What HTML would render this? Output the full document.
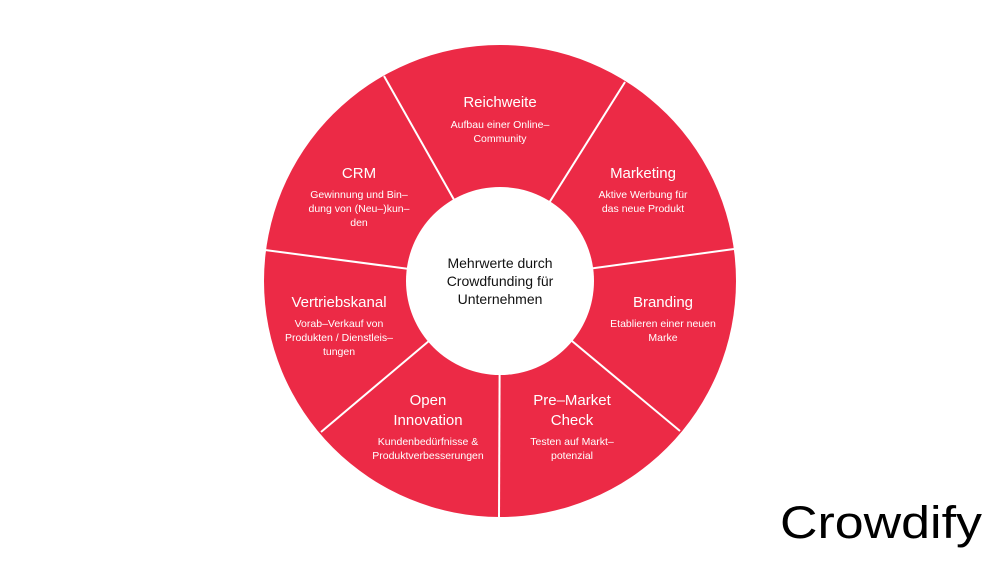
<!DOCTYPE html>
<html><head><meta charset="utf-8"><style>
body{margin:0;background:#fff;width:1000px;height:563px;overflow:hidden}
svg text{font-family:"Liberation Sans",sans-serif}
</style></head><body>
<svg width="1000" height="563" viewBox="0 0 1000 563">
<circle cx="500" cy="281" r="236" fill="#EC2A46"/>
<g stroke="#fff" stroke-width="2">
<line x1="500" y1="281" x2="384" y2="76"/>
<line x1="500" y1="281" x2="625" y2="82"/>
<line x1="500" y1="281" x2="734" y2="249"/>
<line x1="500" y1="281" x2="680" y2="431"/>
<line x1="500" y1="281" x2="499" y2="518"/>
<line x1="500" y1="281" x2="321" y2="432"/>
<line x1="500" y1="281" x2="265" y2="250"/>
</g>
<circle cx="500" cy="281" r="94" fill="#fff"/>
<g fill="#fff" text-anchor="middle">
<g font-size="15"><text x="500" y="107">Reichweite</text><text x="643" y="178">Marketing</text><text x="359" y="178">CRM</text><text x="339" y="307">Vertriebskanal</text><text x="663" y="307">Branding</text><text x="428" y="405">Open</text><text x="428" y="425">Innovation</text><text x="572" y="405">Pre–Market</text><text x="572" y="425">Check</text></g>
<g font-size="10.5">
<text x="500" y="128">Aufbau einer Online–</text><text x="500" y="142">Community</text>
<text x="643" y="198">Aktive Werbung für</text><text x="643" y="212">das neue Produkt</text>
<text x="359" y="198">Gewinnung und Bin–</text><text x="359" y="212">dung von (Neu–)kun–</text><text x="359" y="226">den</text>
<text x="339" y="327">Vorab–Verkauf von</text><text x="339" y="341">Produkten / Dienstleis–</text><text x="339" y="355">tungen</text>
<text x="663" y="327">Etablieren einer neuen</text><text x="663" y="341">Marke</text>
<text x="428" y="445">Kundenbedürfnisse &amp;</text><text x="428" y="459">Produktverbesserungen</text>
<text x="572" y="445">Testen auf Markt–</text><text x="572" y="459">potenzial</text>
</g></g>
<g fill="#111" text-anchor="middle" font-size="14">
<text x="500" y="268">Mehrwerte durch</text><text x="500" y="286">Crowdfunding für</text><text x="500" y="304">Unternehmen</text>
</g>
<text x="881" y="538" text-anchor="middle" font-size="45" fill="#000" textLength="202" lengthAdjust="spacingAndGlyphs">Crowdify</text>
</svg>
</body></html>
